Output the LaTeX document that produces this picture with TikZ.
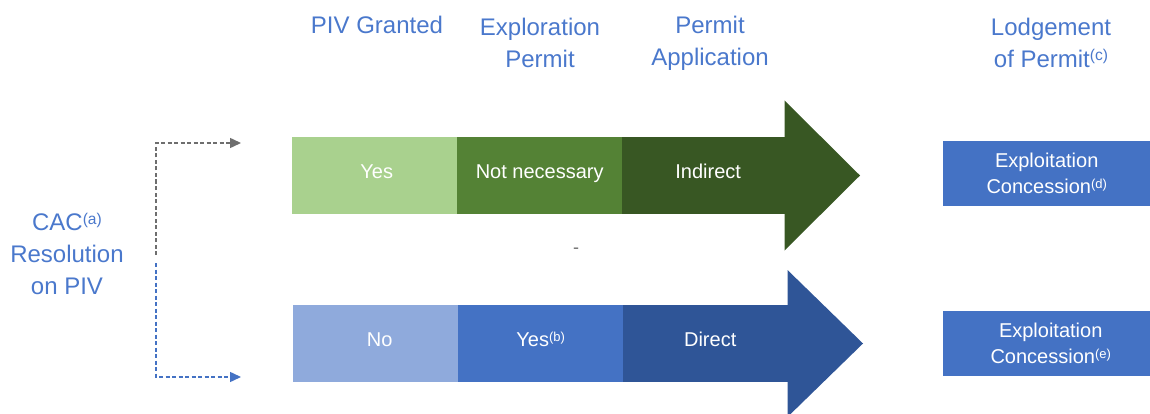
\documentclass[tikz,border=0pt]{standalone}
\usepackage{fontspec}
\setmainfont{Liberation Sans}
\usetikzlibrary{arrows.meta}
\definecolor{lgreen}{HTML}{A9D18E}
\definecolor{mgreen}{HTML}{548235}
\definecolor{dgreen}{HTML}{385723}
\definecolor{lblue}{HTML}{8FAADC}
\definecolor{mblue}{HTML}{4472C4}
\definecolor{dblue}{HTML}{2F5597}
\definecolor{headblue}{HTML}{4A78CC}
\definecolor{conngray}{HTML}{6E6E6E}
\newcommand{\supmark}[1]{\raisebox{0.27em}{\scalebox{0.65}{#1}}}
\tikzset{
  cell/.style={inner sep=0pt, minimum height=77pt, minimum width=165pt, anchor=north west,
    text=white, font=\fontsize{20}{24}\selectfont, text height=0.72em, text depth=0.1em},
  concbox/.style={fill=mblue, inner sep=0pt, minimum height=65pt, minimum width=207pt, anchor=north west,
    text=white, align=center, font=\fontsize{20}{26}\selectfont},
  header/.style={inner sep=0pt, text=headblue, align=center, font=\fontsize{24}{32}\selectfont},
  conn/.style={line width=1.5pt, dash pattern=on 4pt off 2.5pt, -{Triangle[length=11pt,width=10pt]}}
}
\begin{document}
\begin{tikzpicture}[x=1pt,y=-1pt]
\useasboundingbox (0,0) rectangle (1150,414);
% headers
\node[header, anchor=base] (h1) at (377,34) {PIV Granted};
\node[header, anchor=north] (h2) at (540,17.5) {Exploration\\Permit};
\node[header, anchor=north] (h3) at (710,15.5) {Permit\\Application};
\node[header, anchor=north] (h4) at (1051,17.5) {Lodgement\\of Permit\supmark{(c)}};
\node[header, anchor=north] (cac) at (67,213) {CAC\supmark{(a)}\\Resolution\\on PIV};
% green arrow
\fill[dgreen] (784.5,100.5) -- (860,175.5) -- (784.5,250.5) -- cycle;
\node[cell, fill=lgreen] (g1) at (292,137) {\hspace{4pt}Yes};
\node[cell, fill=mgreen] (g2) at (457,137) {Not necessary};
\node[cell, fill=dgreen, minimum width=163pt] (g3) at (622,137) {\hspace{9pt}Indirect};
% blue arrow
\fill[dblue] (787.5,270) -- (863,343.5) -- (787.5,417) -- cycle;
\node[cell, fill=lblue] (b1) at (293,305) {\hspace{8pt}No};
\node[cell, fill=mblue] (b2) at (458,305) {Yes\supmark{(b)}};
\node[cell, fill=dblue] (b3) at (623,305) {\hspace{9pt}Direct};
% small dash
\node[inner sep=0pt, text=conngray, font=\fontsize{18}{18}\selectfont] (dash) at (576,251) {-};
% concession boxes
\node[concbox] (c1) at (943,141) {Exploitation\\Concession\supmark{(d)}};
\node[concbox] (c2) at (943,311) {\hspace{8pt}Exploitation\\\hspace{8pt}Concession\supmark{(e)}};
% connectors
\coordinate (gs) at (156,255);
\coordinate (ge) at (241,143);
\coordinate (bs) at (156,263);
\coordinate (be) at (241,377);
\draw[conn, draw=conngray] (gs) |- (ge);
\draw[conn, draw=mblue] (bs) |- (be);
\end{tikzpicture}
\end{document}
